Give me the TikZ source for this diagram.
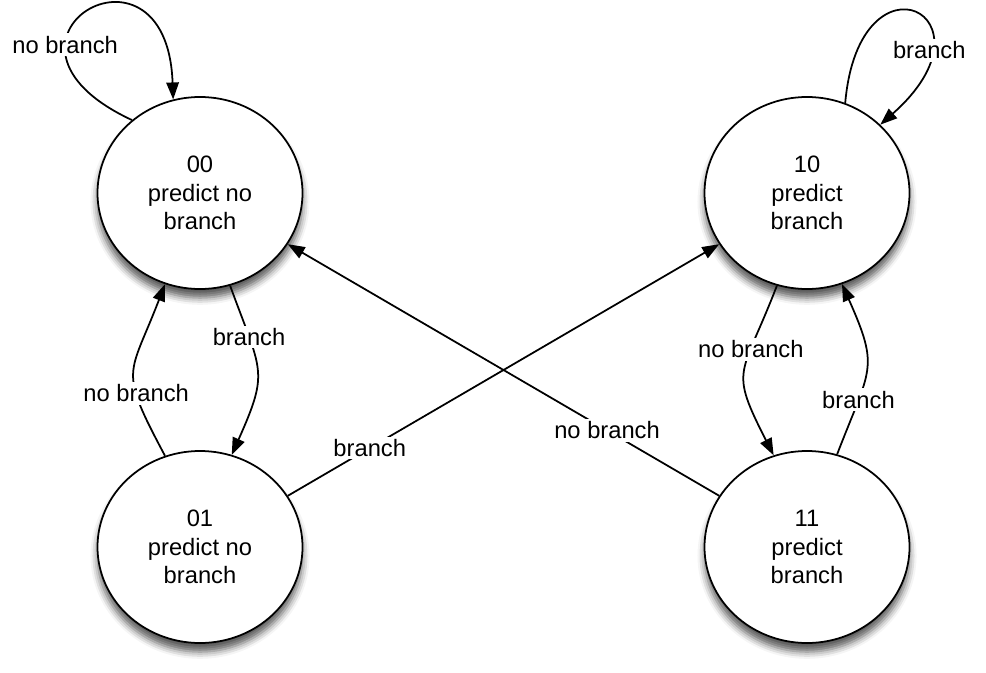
\documentclass[tikz,border=0pt]{standalone}
\usepackage{fontspec}
\setmainfont{Liberation Sans}
\usetikzlibrary{arrows.meta, shapes.geometric, shadows.blur}
\tikzset{
  every picture/.style={line width=1pt},
  state/.style={ellipse, draw, fill=white, minimum width=4.1cm, minimum height=3.84cm, inner sep=0pt, align=center,
    font=\fontsize{13.5}{16.2}\selectfont,
    blur shadow={shadow xshift=0pt, shadow yshift=-5pt, shadow blur radius=4pt, shadow opacity=65}},
  arrow/.style={-{Triangle[length=3.4mm, width=2.5mm]}},
  lbl/.style={fill=white, inner sep=1.5pt, font=\fontsize{13.5}{16.2}\selectfont},
}
\begin{document}
\begin{tikzpicture}
  \useasboundingbox (0,0) rectangle (19.72,13.44);
  \foreach \n/\x/\y/\s in {00/4/9.58/predict no\\branch, 01/4/2.5/predict no\\branch, 10/16.14/9.58/predict\\branch, 11/16.14/2.5/predict\\branch}
    \node[state] (s\n) at (\x,\y) {\n\\\s};
  \draw[arrow] (s00.133) .. controls +(155:3.74) and +(92:3.6) .. (s00.106) node[lbl, pos=0.31] {no branch};
  \draw[arrow] (s10.67) .. controls +(85:3.2) and +(41.5:3.3) .. (s10.43) node[lbl, pos=0.74] {branch};
  \draw[arrow] (s00.-72) to[out=-70, in=66, looseness=1.4] node[lbl, pos=0.25] {branch} (s01.71);
  \draw[arrow] (s01.111) to[out=118, in=-111, looseness=1.5] node[lbl, pos=0.33] {no branch} (s00.-111);
  \draw[arrow] (s10.-108) to[out=-111, in=117, looseness=1.5] node[lbl, pos=0.32] {no branch} (s11.110);
  \draw[arrow] (s11.72) to[out=69, in=-66, looseness=1.4] node[lbl, pos=0.27] {branch} (s10.-69);
  \draw[arrow] (s01) -- node[lbl, pos=0.19] {branch} (s10);
  \draw[arrow] (s11) -- node[lbl, pos=0.26] {no branch} (s00);
\end{tikzpicture}
\end{document}
